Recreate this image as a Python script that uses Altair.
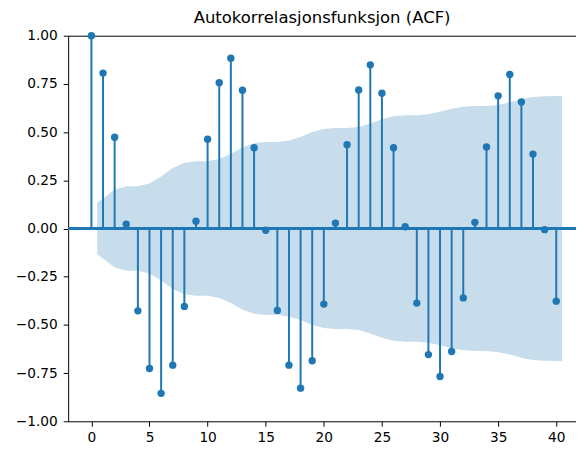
import altair as alt
import pandas as pd

lags = list(range(41))
acf_values = [1.0, 0.806, 0.473, 0.022, -0.427, -0.726, -0.855, -0.709, -0.404, 0.038,
              0.463, 0.756, 0.883, 0.717, 0.419, -0.009, -0.425, -0.709, -0.828, -0.686,
              -0.392, 0.028, 0.435, 0.719, 0.849, 0.702, 0.419, 0.009, -0.387, -0.654,
              -0.768, -0.638, -0.360, 0.032, 0.423, 0.688, 0.799, 0.656, 0.386, -0.006,
              -0.377]
band_lags = [0.5] + list(range(2, 40)) + [40.5]
band_half = [0.133, 0.201, 0.219, 0.219, 0.234, 0.270, 0.314, 0.341, 0.349, 0.349,
             0.360, 0.387, 0.421, 0.442, 0.449, 0.449, 0.456, 0.474, 0.500, 0.516,
             0.521, 0.521, 0.527, 0.545, 0.567, 0.582, 0.588, 0.588, 0.592, 0.605,
             0.621, 0.632, 0.636, 0.636, 0.642, 0.654, 0.671, 0.682, 0.686, 0.688]

C0 = "#1f77b4"
FONT = "DejaVu Sans"

acf_df = pd.DataFrame({"lag": lags, "acf": acf_values, "zero": 0.0})
band_df = pd.DataFrame({"lag": band_lags, "upper": band_half,
                        "lower": [-v for v in band_half]})

xscale = alt.Scale(domain=[-2, 41.7], nice=False, zero=False)
yscale = alt.Scale(domain=[-1, 1], nice=False)

yaxis = alt.Axis(values=[-1, -0.75, -0.5, -0.25, 0, 0.25, 0.5, 0.75, 1.0], format=".2f",
                 grid=False, tickSize=5, labelPadding=6, domainColor="black",
                 tickColor="black", labelColor="black", labelFontSize=13.9,
                 labelFont=FONT, title=None, domainWidth=1, tickWidth=1)
xaxis = alt.Axis(values=list(range(0, 41, 5)), grid=False, tickSize=5, labelPadding=4,
                 domainColor="black", tickColor="black", labelColor="black",
                 labelFontSize=13.9, labelFont=FONT, title=None, domainWidth=1,
                 tickWidth=1, orient="bottom")
topaxis = alt.Axis(orient="top", labels=False, ticks=False, grid=False,
                   domainColor="black", domainWidth=1, title=None)

stems = alt.Chart(acf_df).mark_rule(color=C0, strokeWidth=2).encode(
    x=alt.X("lag:Q", scale=xscale, axis=xaxis),
    y=alt.Y("zero:Q", scale=yscale, axis=yaxis),
    y2="acf:Q",
)

zero_line = alt.Chart(acf_df).mark_rule(color=C0, strokeWidth=1.8).encode(
    y=alt.datum(0, scale=yscale, axis=yaxis),
)

points = alt.Chart(acf_df).mark_circle(color=C0, size=56, opacity=1).encode(
    x=alt.X("lag:Q", scale=xscale, axis=topaxis),
    y=alt.Y("acf:Q", scale=yscale, axis=yaxis),
)

band = alt.Chart(band_df).mark_area(color=C0, opacity=0.25).encode(
    x=alt.X("lag:Q", scale=xscale, axis=None),
    y=alt.Y("upper:Q", scale=yscale, axis=yaxis),
    y2="lower:Q",
)

chart = alt.layer(stems, zero_line, points, band).resolve_axis(
    x="independent"
).properties(
    width=515,
    height=391,
    title=alt.TitleParams("Autokorrelasjonsfunksjon (ACF)", font=FONT, fontSize=16.7,
                          fontWeight="normal", color="black", offset=2, anchor="middle"),
    autosize=alt.AutoSizeParams(type="none"),
    padding={"left": 61, "top": 25, "right": 0, "bottom": 25},
).configure_view(stroke=None)

chart.save("out.html", embed_options={"renderer": "svg", "actions": False})
